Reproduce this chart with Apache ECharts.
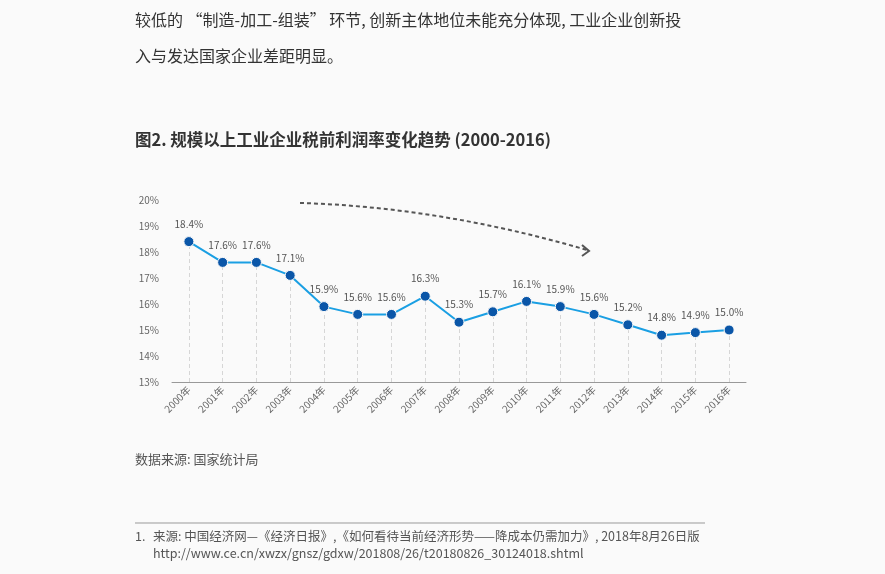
<!DOCTYPE html>
<html>
<head>
<meta charset="utf-8">
<script src="https://cdn.jsdelivr.net/npm/echarts@6/dist/echarts.min.js"></script>
<style>
  html, body { margin: 0; padding: 0; background: #fafafa; }
  #chart { width: 885px; height: 574px; }
</style>
</head>
<body>
<div id="chart"></div>
<script>
// 数据
const years = ['2000年', '2001年', '2002年', '2003年', '2004年', '2005年', '2006年', '2007年', '2008年',
  '2009年', '2010年', '2011年', '2012年', '2013年', '2014年', '2015年', '2016年']
const profitRate = [18.4, 17.6, 17.6, 17.1, 15.9, 15.6, 15.6, 16.3, 15.3, 15.7, 16.1, 15.9, 15.6, 15.2, 14.8, 14.9, 15.0]
const yTicks = [13, 14, 15, 16, 17, 18, 19, 20]

const font = '"Noto Sans CJK SC", "Noto Sans", sans-serif'

const chart = echarts.init(document.getElementById('chart'))

chart.setOption({
  backgroundColor: '#fafafa',
  textStyle: { fontFamily: font },
  grid: { left: 172, right: 139, top: 200, bottom: 192 },
  xAxis: {
    type: 'category',
    data: years,
    boundaryGap: true,
    axisLine: { lineStyle: { color: '#999', width: 1 } },
    axisTick: { show: false },
    axisLabel: { rotate: 45, fontSize: 10, color: '#666', margin: 6, interval: 0 }
  },
  yAxis: {
    type: 'value',
    min: yTicks[0],
    max: yTicks[yTicks.length - 1],
    interval: 1,
    axisLine: { show: false },
    axisTick: { show: false },
    splitLine: { show: false },
    axisLabel: { fontSize: 10, color: '#666', margin: 13, formatter: '{value}%' }
  },
  series: [
    {
      // 垂直虚线
      type: 'line',
      data: profitRate,
      symbol: 'none',
      silent: true,
      lineStyle: { opacity: 0 },
      z: 1,
      markLine: {
        silent: true,
        symbol: 'none',
        label: { show: false },
        lineStyle: { color: '#d6d6d6', type: [4, 3], width: 1 },
        data: profitRate.map((v, i) => [
          { coord: [i, yTicks[0]] },
          { coord: [i, v] }
        ])
      }
    },
    {
      type: 'line',
      data: profitRate,
      symbol: 'circle',
      symbolSize: 10,
      lineStyle: { color: '#1a9fe3', width: 2 },
      itemStyle: { color: '#0a56a8', borderColor: '#fafafa', borderWidth: 1 },
      label: {
        show: true,
        position: 'top',
        distance: 7,
        fontSize: 10,
        color: '#555',
        formatter: p => p.value.toFixed(1) + '%'
      },
      z: 5
    }
  ],
  graphic: [
    {
      type: 'text', left: 135, top: 12,
      style: { text: '较低的 “制造-加工-组装” 环节, 创新主体地位未能充分体现, 工业企业创新投', fill: '#333', font: '16px ' + font }
    },
    {
      type: 'text', left: 135, top: 48,
      style: { text: '入与发达国家企业差距明显。', fill: '#333', font: '16px ' + font }
    },
    {
      type: 'text', left: 135, top: 131,
      style: { text: '图2. 规模以上工业企业税前利润率变化趋势 (2000-2016)', fill: '#333', font: 'bold 16.5px ' + font }
    },
    {
      type: 'bezierCurve',
      shape: { x1: 300, y1: 203, x2: 587, y2: 250, cpx1: 440, cpy1: 207 },
      style: { stroke: '#555', lineWidth: 2, lineDash: [4, 3], fill: null }
    },
    {
      type: 'polyline',
      shape: { points: [[582, 245], [589, 251], [582, 256]] },
      style: { stroke: '#555', lineWidth: 2, fill: null }
    },
    {
      type: 'text', left: 135, top: 453,
      style: { text: '数据来源: 国家统计局', fill: '#555', font: '13px ' + font }
    },
    {
      type: 'line',
      shape: { x1: 135, y1: 523, x2: 705, y2: 523 },
      style: { stroke: '#999', lineWidth: 1 }
    },
    {
      type: 'text', left: 135, top: 530,
      style: { text: '1.', fill: '#555', font: '12.5px ' + font }
    },
    {
      type: 'text', left: 153, top: 530,
      style: { text: '来源: 中国经济网—《经济日报》,《如何看待当前经济形势——降成本仍需加力》, 2018年8月26日版', fill: '#555', font: '12.5px ' + font }
    },
    {
      type: 'text', left: 153, top: 547,
      style: { text: 'http://www.ce.cn/xwzx/gnsz/gdxw/201808/26/t20180826_30124018.shtml', fill: '#555', font: '12.5px ' + font }
    }
  ]
})
</script>
</body>
</html>
